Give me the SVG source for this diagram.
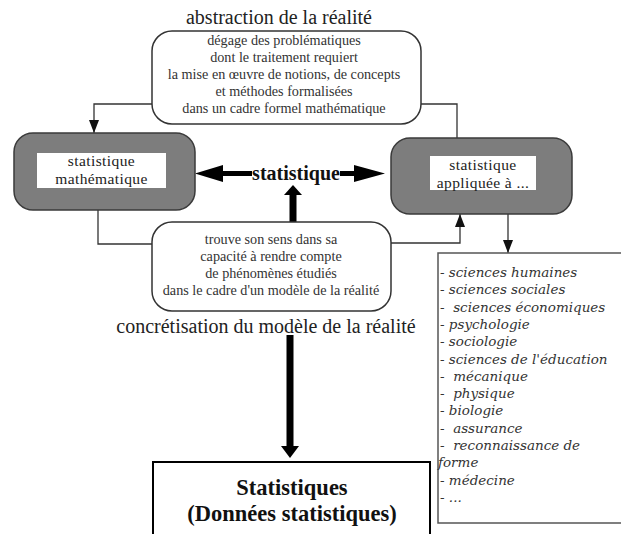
<svg xmlns="http://www.w3.org/2000/svg" width="621" height="534" viewBox="0 0 621 534">
<style>
.bub{fill:#fff;stroke:#333;stroke-width:1.5}
.grey{fill:#7d7d7d;stroke:#3a3a3a;stroke-width:1.5}
.inner{fill:#fff;stroke:none}
.t{font-family:"Liberation Serif","Times New Roman",serif;fill:#333;text-anchor:middle}
.sm{font-size:14.2px}
.lab{font-size:20px;fill:#222}
.nd{font-size:15.5px;letter-spacing:0.4px;fill:#222}
.bd{font-family:"Liberation Serif","Times New Roman",serif;font-weight:bold;fill:#111;text-anchor:middle}
.conn{fill:none;stroke:#333;stroke-width:1.3}
.thick{fill:#000;stroke:none}
.li{font-family:"DejaVu Serif",serif;font-style:italic;font-size:13.5px;fill:#333;white-space:pre}
</style>
<defs>
<marker id="ah2" markerUnits="userSpaceOnUse" markerWidth="14" markerHeight="10" refX="13" refY="5" orient="auto" viewBox="0 0 14 10">
<path d="M0,0 L13,5 L0,10 Z" fill="#111"/>
</marker>
</defs>
<text class="t lab" x="279" y="24">abstraction de la réalité</text>
<text class="t lab" x="266" y="333">concrétisation du modèle de la réalité</text>
<g id="connectors">
<path class="conn" d="M152,104 H94 V133" marker-end="url(#ah2)"/>
<path class="conn" d="M421,104 H457 V138"/>
<path class="conn" d="M98,210 V244 H152"/>
<path class="conn" d="M391,243 H460 V214" marker-end="url(#ah2)"/>
<path class="conn" d="M508,190 V253" marker-end="url(#ah2)"/>
<g class="thick">
<polygon points="195,173.5 223,165 223,182"/>
<rect x="222" y="171" width="30" height="5"/>
<rect x="340" y="171" width="15" height="5"/>
<polygon points="385,173.5 354,165 354,182"/>
<rect x="289.5" y="194" width="7" height="29"/>
<polygon points="293,185 284,195 302,195"/>
<rect x="286.5" y="335" width="7" height="112"/>
<polygon points="281,446 299,446 290,458"/>
</g>
</g>
<g id="n-abstraction">
<rect class="bub" x="152" y="31" width="269" height="93" rx="20"/>
<text class="t sm" x="284" y="45">dégage des problématiques</text>
<text class="t sm" x="284" y="62">dont le traitement requiert</text>
<text class="t sm" x="284" y="79">la mise en œuvre de notions, de concepts</text>
<text class="t sm" x="284" y="96">et méthodes formalisées</text>
<text class="t sm" x="284" y="113">dans un cadre formel mathématique</text>
</g>
<g id="n-math">
<rect class="grey" x="14" y="133" width="181" height="77" rx="19"/>
<rect class="inner" x="37" y="153" width="129" height="35"/>
<text class="t nd" x="101.5" y="165.5">statistique</text>
<text class="t nd" x="101.5" y="183.5">mathématique</text>
</g>
<g id="n-appliquee">
<rect class="grey" x="391" y="138" width="181" height="76" rx="19"/>
<rect class="inner" x="430" y="156" width="106" height="34"/>
<text class="t nd" x="483" y="169.5">statistique</text>
<text class="t nd" x="483" y="187.5">appliquée à ...</text>
</g>
<g id="n-statistique">
<text class="bd" x="296" y="180" font-size="20">statistique</text>
</g>
<g id="n-concret">
<rect class="bub" x="152" y="222" width="239" height="89" rx="20"/>
<text class="t sm" x="271" y="244">trouve son sens dans  sa</text>
<text class="t sm" x="271" y="261">capacité à rendre compte</text>
<text class="t sm" x="271" y="278">de phénomènes étudiés</text>
<text class="t sm" x="271" y="295">dans le cadre d'un modèle de la réalité</text>
</g>
<g id="n-donnees">
<rect x="153" y="462" width="277" height="80" fill="#fff" stroke="#000" stroke-width="2"/>
<text class="bd" x="292" y="495" font-size="22.5">Statistiques</text>
<text class="bd" x="292" y="521" font-size="22.5">(Données statistiques)</text>
</g>
<g id="n-liste">
<rect x="438" y="253" width="185" height="270" fill="#fff" stroke="#555" stroke-width="1.5"/>
<text class="li" x="440" y="277">- sciences humaines</text>
<text class="li" x="440" y="294.3">- sciences sociales</text>
<text class="li" x="440" y="311.6">-  sciences économiques</text>
<text class="li" x="440" y="328.9">- psychologie</text>
<text class="li" x="440" y="346.2">- sociologie</text>
<text class="li" x="440" y="363.5">- sciences de l'éducation</text>
<text class="li" x="440" y="380.8">-  mécanique</text>
<text class="li" x="440" y="398.1">-  physique</text>
<text class="li" x="440" y="415.4">- biologie</text>
<text class="li" x="440" y="432.7">-  assurance</text>
<text class="li" x="440" y="450">-  reconnaissance de</text>
<text class="li" x="438" y="467.3">forme</text>
<text class="li" x="440" y="484.6">- médecine</text>
<text class="li" x="440" y="501.9">- ...</text>
</g>
</svg>
